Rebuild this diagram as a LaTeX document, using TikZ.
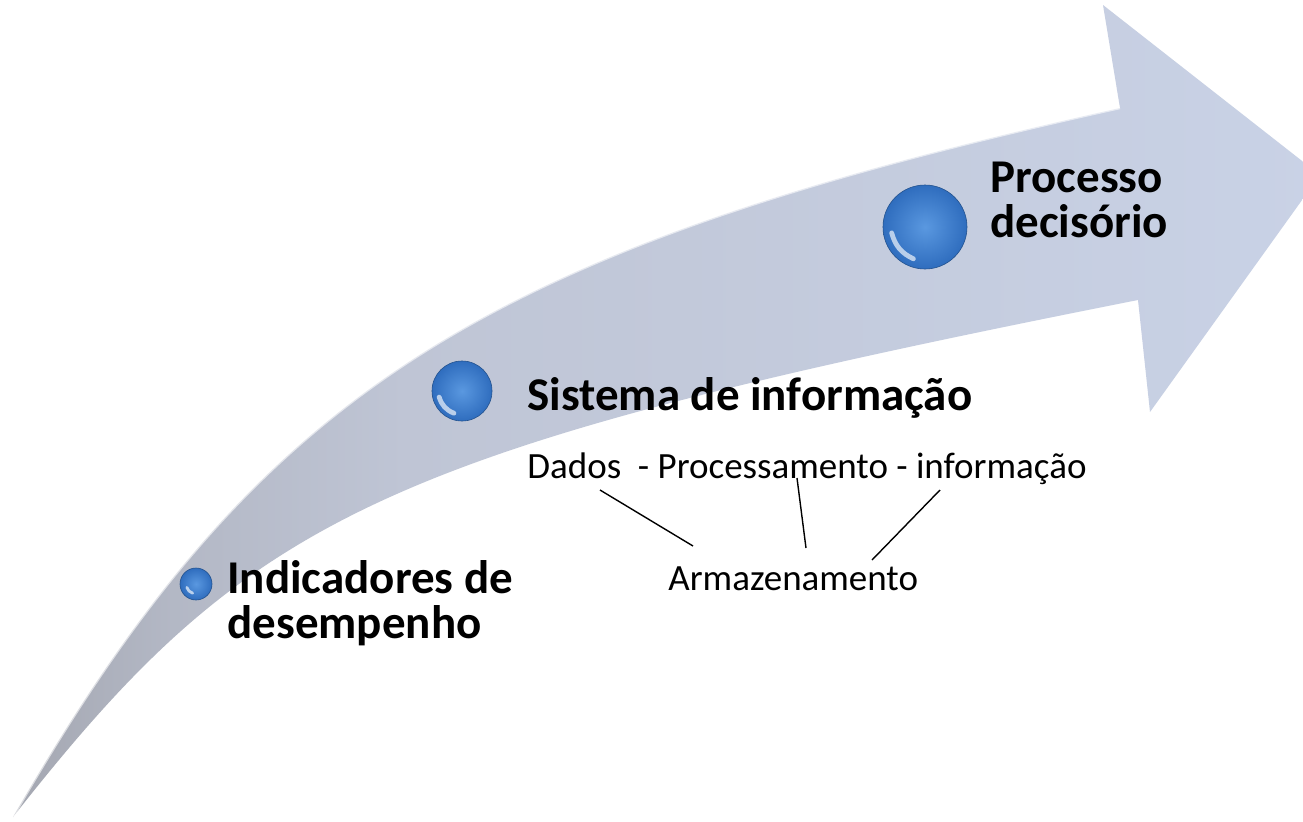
\documentclass[tikz,border=0pt]{standalone}
\usepackage{fontspec}
\setmainfont{Carlito}
\usepackage{xcolor}
\definecolor{cinzaSeta}{HTML}{A4A7B1}
\definecolor{meioSeta}{HTML}{BFC5D5}
\definecolor{azulSeta}{HTML}{C9D2E6}
\definecolor{azulBola}{HTML}{2F6DBE}
\definecolor{azulClaro}{HTML}{5A98E0}
\usetikzlibrary{calc}
\pgfdeclarehorizontalshading{setaShade}{100bp}{color(0bp)=(cinzaSeta); color(25bp)=(cinzaSeta);
  color(31bp)=(cinzaSeta!45!meioSeta); color(40bp)=(meioSeta); color(75bp)=(azulSeta); color(100bp)=(azulSeta)}

\begin{document}
\begin{tikzpicture}[x=0.5pt,y=-0.5pt,
  titulo/.style={font=\bfseries\fontsize{23.5}{22.5}\selectfont,align=left,inner sep=0pt,anchor=base west},
  texto/.style={font=\fontsize{18.5}{22}\selectfont,inner sep=0pt,anchor=base west},
  bola/.style={circle,inner sep=0pt,draw=azulBola!75!black,line width=0.3pt,
    inner color=azulClaro,outer color=azulBola},
  brilho/.style={white,opacity=.65,line width=2.4pt,line cap=round},
  lig/.style={line width=0.7pt}]
  \useasboundingbox (0,0) rectangle (1303,821);
  \clip (0,0) rectangle (1303,821);
  \fill[white] (0,0) rectangle (1303,821);
  \shade[shading=setaShade]
    (13,817) .. controls (257,392) and (478,250) .. (1120,108) -- (1103,5)
    -- (1320,175) -- (1150,412) -- (1138,300)
    .. controls (380,450) and (250,515) .. (13,817) -- cycle;
  \draw[white,opacity=.6,line width=1.2pt]
    (13,817) .. controls (257,392) and (478,250) .. (1120,108);
  \node[bola,minimum size=42pt] (bolaC) at (925,227) {};
  \node[bola,minimum size=30pt] (bolaB) at (462,391) {};
  \node[bola,minimum size=16pt] (bolaA) at (196,584) {};
  \draw[brilho] ($(bolaC.center)!0.8!(bolaC.190)$) to[bend right=25] ($(bolaC.center)!0.8!(bolaC.250)$);
  \draw[brilho] ($(bolaB.center)!0.78!(bolaB.195)$) to[bend right=25] ($(bolaB.center)!0.78!(bolaB.250)$);
  \draw[brilho,line width=1.4pt] ($(bolaA.center)!0.6!(bolaA.200)$) to[bend right=25] ($(bolaA.center)!0.6!(bolaA.250)$);
  \node[titulo] (processo) at (990,237) {Processo\\decisório};
  \node[titulo] (sistema) at (527,410) {Sistema de informação};
  \node[titulo] (indicadores) at (227,638) {Indicadores de\\desempenho};
  \node[texto] (fluxo) at (527,478) {Dados\ \ - Processamento - informação};
  \node[texto] (armaz) at (668,590) {Armazenamento};
  \coordinate (dadosPe) at (600,490);
  \coordinate (procPe) at (797,478);
  \coordinate (infoPe) at (940,490);
  \coordinate (armazA) at (693,546);
  \coordinate (armazB) at (806,548);
  \coordinate (armazC) at (872,560);
  \draw[lig] (dadosPe) -- (armazA);
  \draw[lig] (procPe) -- (armazB);
  \draw[lig] (infoPe) -- (armazC);
\end{tikzpicture}
\end{document}
